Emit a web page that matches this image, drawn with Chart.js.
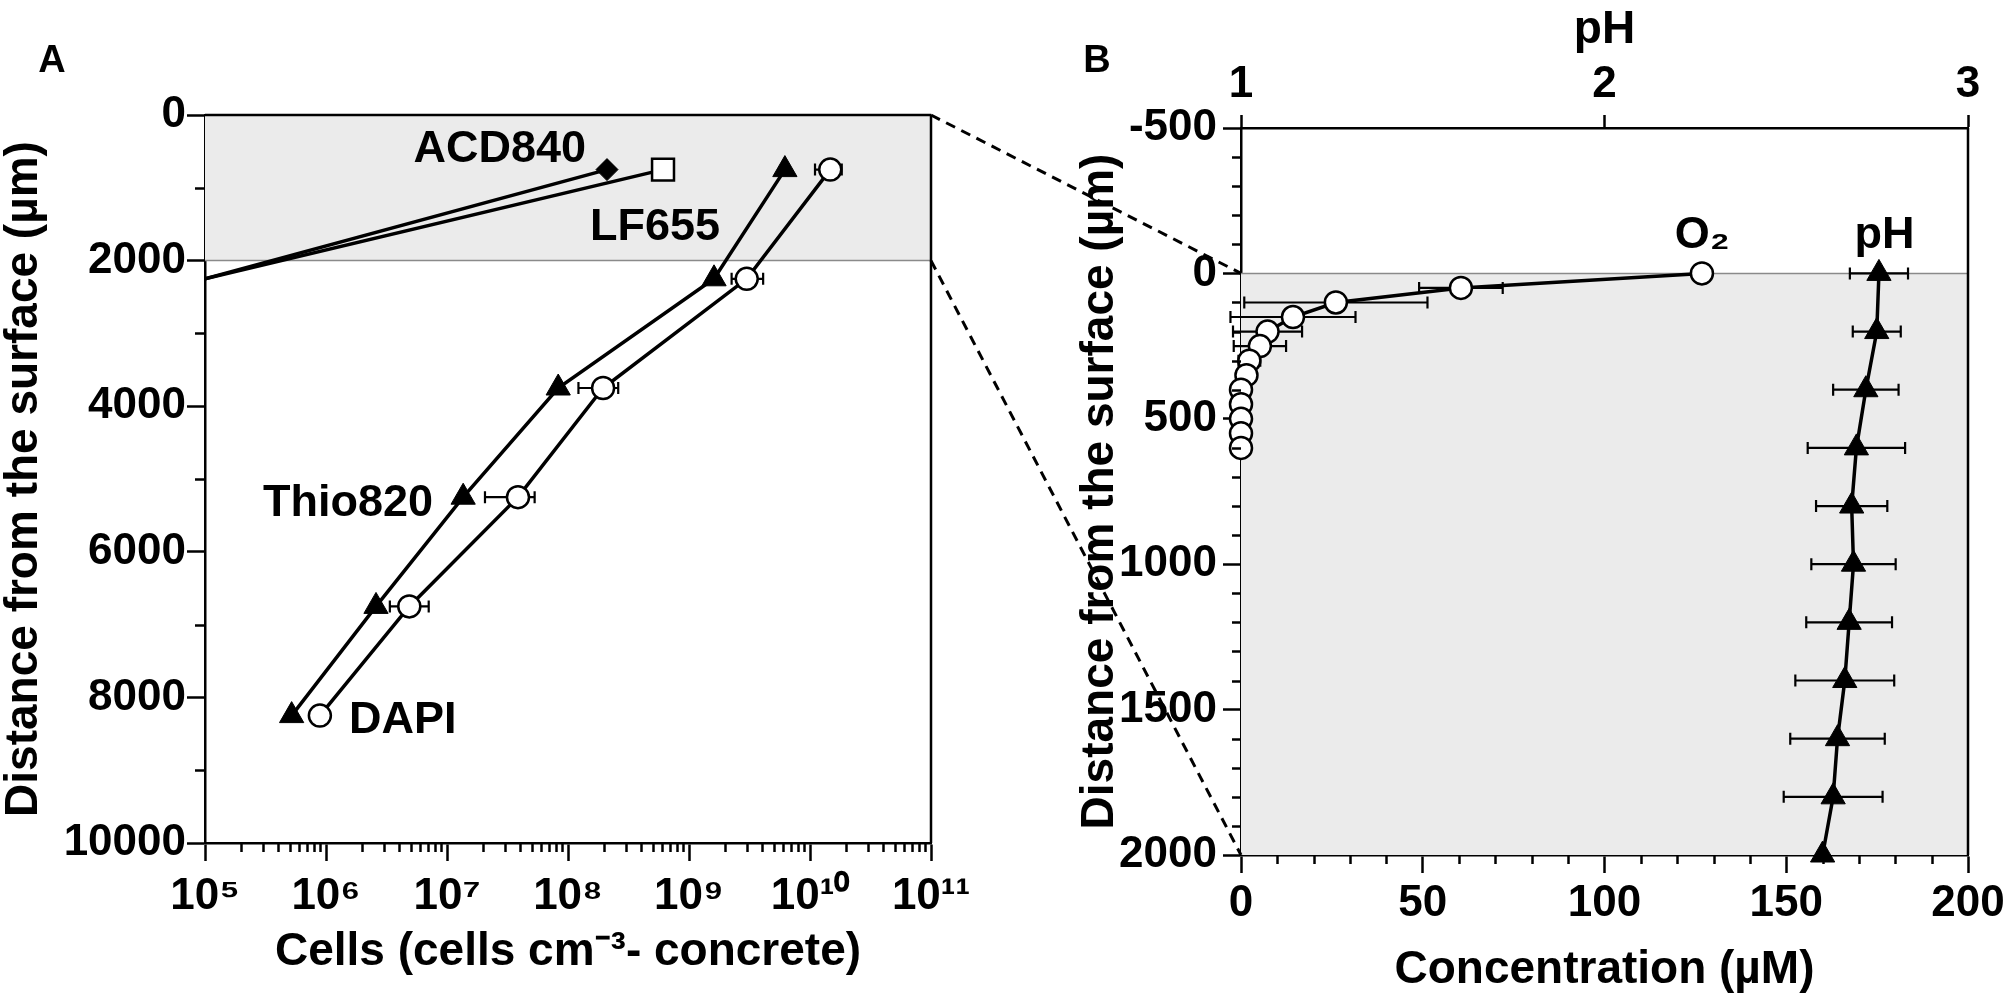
<!DOCTYPE html>
<html>
<head>
<meta charset="utf-8">
<script src="https://cdn.jsdelivr.net/npm/chart.js@4.4.1/dist/chart.umd.min.js"></script>
<style>
  html, body { margin: 0; padding: 0; background: #fff; }
  #wrap { position: relative; width: 2011px; height: 1003px; }
  #wrap canvas { position: absolute; left: 0; top: 0; }
</style>
</head>
<body>
<div id="wrap">
  <canvas id="chartA" width="2011" height="1003"></canvas>
  <canvas id="chartB" width="2011" height="1003"></canvas>
</div>
<script>
// Panel A: cell counts against depth
const depthA = [750, 2250, 3750, 5250, 6750, 8250];
const dapiCells = [1.47e10, 3.0e9, 1.95e8, 3.86e7, 4.88e6, 8.9e5];
const dapiLow = [1.10e10, 2.25e9, 1.22e8, 2.06e7, 3.37e6, null];
const dapiHigh = [1.83e10, 4.1e9, 2.6e8, 5.3e7, 7.06e6, null];
const thioCells = [6.2e9, 1.61e9, 8.3e7, 1.36e7, 2.59e6, 5.2e5];
const acdDepth = [750, 2250];
const acdCells = [2.1e8, 1e5];
const lfDepth = [750, 2250];
const lfCells = [6.1e8, 1e5];

const cellTicks = [1e5, 1e6, 1e7, 1e8, 1e9, 1e10, 1e11];
const cellTickLabels = ['10⁵', '10⁶', '10⁷', '10⁸', '10⁹', '10¹⁰', '10¹¹'];
const depthTicksA = [0, 2000, 4000, 6000, 8000, 10000];

// Panel B: O2 and pH microprofiles
const o2Depth = [0, 50, 100, 150, 200, 250, 300, 350, 400, 450, 500, 550, 600];
const o2Conc = [126.8, 60.5, 26.1, 14.3, 7.3, 5.2, 2.3, 1.5, 0, 0, 0, 0, 0];
const o2Err = [0, 11.5, 25.2, 17.2, 9.5, 7.2, 3, 0, 0, 0, 0, 0, 0];
const phDepth = [0, 200, 400, 600, 800, 1000, 1200, 1400, 1600, 1800, 2000];
const phValue = [2.755, 2.749, 2.719, 2.693, 2.680, 2.685, 2.673, 2.661, 2.641, 2.629, 2.600];
const phErr = [0.080, 0.066, 0.090, 0.134, 0.098, 0.116, 0.118, 0.136, 0.130, 0.136, 0];

const depthTicksB = [-500, 0, 500, 1000, 1500, 2000];
const concTicks = [0, 50, 100, 150, 200];
const phTicks = [1, 2, 3];

const fontFamily = "'Liberation Sans', Arial, sans-serif";
const tickFont = { family: fontFamily, size: 44, weight: 'bold' };
const titleFont = { family: fontFamily, size: 46, weight: 'bold', lineHeight: 1 };
const bandColor = '#ebebeb';

function labelFor(values, labels, v) {
  const i = values.indexOf(v);
  return i < 0 ? '' : labels[i];
}

function fixTicks(values) {
  return scale => { scale.ticks = values.map(v => ({ value: v })); };
}

// minor tick positions between the labelled ones
function steps(from, to, step, skip) {
  const out = [];
  for (let v = from; v <= to; v += step) {
    if (v % skip !== 0) out.push(v);
  }
  return out;
}
function logMinor(fromExp, toExp) {
  const out = [];
  for (let e = fromExp; e < toExp; e++) {
    for (let m = 2; m <= 9; m++) out.push(m * Math.pow(10, e));
  }
  return out;
}

function points(xs, ys) {
  return xs.map((x, i) => ({ x: x, y: ys[i] }));
}

const minorTicks = {
  id: 'minorTicks',
  afterDraw(chart, args, opts) {
    const ctx = chart.ctx;
    const area = chart.chartArea;
    ctx.save();
    ctx.strokeStyle = '#000';
    ctx.lineWidth = 2.5;
    opts.axes.forEach(a => {
      const scale = chart.scales[a.id];
      a.values.forEach(v => {
        const p = Math.round(scale.getPixelForValue(v)) + 0.5;
        ctx.beginPath();
        if (scale.position === 'left') {
          ctx.moveTo(area.left, p);
          ctx.lineTo(area.left - a.len, p);
        } else {
          ctx.moveTo(p, area.bottom);
          ctx.lineTo(p, area.bottom + a.len);
        }
        ctx.stroke();
      });
    });
    ctx.restore();
  }
};

const band = {
  id: 'band',
  beforeDatasetsDraw(chart, args, opts) {
    const ctx = chart.ctx;
    const area = chart.chartArea;
    const y = chart.scales.y;
    const y1 = y.getPixelForValue(opts.from);
    const y2 = y.getPixelForValue(opts.to);
    ctx.save();
    ctx.fillStyle = bandColor;
    ctx.fillRect(area.left, y1, area.right - area.left, y2 - y1);
    ctx.strokeStyle = '#8a8a8a';
    ctx.lineWidth = 1.5;
    const yl = y.getPixelForValue(opts.line);
    ctx.beginPath();
    ctx.moveTo(area.left, yl);
    ctx.lineTo(area.right, yl);
    ctx.stroke();
    ctx.restore();
  }
};

const frame = {
  id: 'frame',
  afterDraw(chart, args, opts) {
    const ctx = chart.ctx;
    const area = chart.chartArea;
    ctx.save();
    ctx.strokeStyle = '#000';
    ctx.lineWidth = 2.5;
    ctx.beginPath();
    if (opts.top) {
      ctx.moveTo(area.left, area.top);
      ctx.lineTo(area.right, area.top);
    }
    ctx.moveTo(area.right, area.top);
    ctx.lineTo(area.right, area.bottom);
    ctx.stroke();
    ctx.restore();
  }
};

const errorBars = {
  id: 'errorBars',
  beforeDatasetsDraw(chart, args, opts) {
    const ctx = chart.ctx;
    ctx.save();
    ctx.strokeStyle = '#000';
    ctx.lineWidth = 2.2;
    opts.sets.forEach(s => {
      const meta = chart.getDatasetMeta(s.dataset);
      const xs = chart.scales[meta.xAxisID];
      const ys = chart.scales[meta.yAxisID];
      s.lo.forEach((lo, i) => {
        const hi = s.hi[i];
        if (lo == null || hi == null || hi === lo) return;
        const y = ys.getPixelForValue(s.y[i]);
        const x1 = xs.getPixelForValue(lo);
        const x2 = xs.getPixelForValue(hi);
        ctx.beginPath();
        ctx.moveTo(x1, y);
        ctx.lineTo(x2, y);
        ctx.moveTo(x1, y - 6);
        ctx.lineTo(x1, y + 6);
        ctx.moveTo(x2, y - 6);
        ctx.lineTo(x2, y + 6);
        ctx.stroke();
      });
    });
    ctx.restore();
  }
};

const plotLabels = {
  id: 'plotLabels',
  afterDatasetsDraw(chart, args, opts) {
    const ctx = chart.ctx;
    ctx.save();
    ctx.fillStyle = '#000';
    ctx.textBaseline = 'alphabetic';
    ctx.font = 'bold 45px ' + fontFamily;
    opts.items.forEach(it => {
      const x = chart.scales[it.xAxis || 'x'].getPixelForValue(it.x);
      const y = chart.scales.y.getPixelForValue(it.y);
      ctx.textAlign = it.align;
      ctx.fillText(it.text, x, y);
    });
    ctx.restore();
  }
};

const panelLetter = {
  id: 'panelLetter',
  afterDraw(chart, args, opts) {
    const ctx = chart.ctx;
    ctx.save();
    ctx.fillStyle = '#000';
    ctx.font = 'bold 38px ' + fontFamily;
    ctx.textAlign = 'center';
    ctx.textBaseline = 'alphabetic';
    ctx.fillText(opts.text, opts.x, opts.y);
    ctx.restore();
  }
};

const baseOptions = {
  responsive: false,
  devicePixelRatio: 1,
  animation: false,
  events: []
};

function axisGrid(len) {
  return { drawOnChartArea: false, drawTicks: true, tickLength: len, tickWidth: 2.5, tickColor: '#000' };
}
const axisBorder = { display: true, color: '#000', width: 2.5 };

// ---------- Panel A ----------
const chartA = new Chart(document.getElementById('chartA'), {
  type: 'scatter',
  data: {
    datasets: [
      {
        label: 'DAPI',
        data: points(dapiCells, depthA),
        showLine: true,
        borderColor: '#000',
        borderWidth: 3.5,
        pointStyle: 'circle',
        pointRadius: 11,
        pointBackgroundColor: '#fff',
        pointBorderColor: '#000',
        pointBorderWidth: 2.5
      },
      {
        label: 'Thio820',
        data: points(thioCells, depthA),
        showLine: true,
        borderColor: '#000',
        borderWidth: 3.5,
        pointStyle: 'triangle',
        pointRadius: 14,
        pointBackgroundColor: '#000',
        pointBorderColor: '#000',
        pointBorderWidth: 1
      },
      {
        label: 'ACD840',
        data: points(acdCells, acdDepth),
        showLine: true,
        borderColor: '#000',
        borderWidth: 3.5,
        pointStyle: 'rectRot',
        pointRadius: [11, 0],
        pointBackgroundColor: '#000',
        pointBorderColor: '#000',
        pointBorderWidth: 1
      },
      {
        label: 'LF655',
        data: points(lfCells, lfDepth),
        showLine: true,
        borderColor: '#000',
        borderWidth: 3.5,
        pointStyle: 'rect',
        pointRadius: [15.5, 0],
        pointBackgroundColor: '#fff',
        pointBorderColor: '#000',
        pointBorderWidth: 2.5
      }
    ]
  },
  options: Object.assign({}, baseOptions, {
    layout: { padding: { left: 0, top: 115, right: 1080, bottom: 0 } },
    scales: {
      x: {
        type: 'logarithmic',
        position: 'bottom',
        min: 1e5,
        max: 1e11,
        afterBuildTicks: fixTicks(cellTicks),
        afterFit: s => { s.height = 160; },
        border: axisBorder,
        grid: axisGrid(18),
        ticks: {
          autoSkip: false,
          maxRotation: 0,
          padding: 9,
          color: '#000',
          font: tickFont,
          callback: v => labelFor(cellTicks, cellTickLabels, v)
        },
        title: {
          display: true,
          text: 'Cells (cells cm⁻³- concrete)',
          color: '#000',
          font: titleFont,
          padding: { top: 0, bottom: 28 }
        }
      },
      y: {
        type: 'linear',
        position: 'left',
        reverse: true,
        min: 0,
        max: 10000,
        afterBuildTicks: fixTicks(depthTicksA),
        afterFit: s => { s.width = 205; },
        border: axisBorder,
        grid: axisGrid(18),
        ticks: {
          autoSkip: false,
          padding: 1,
          color: '#000',
          font: tickFont,
          callback: v => String(v)
        },
        title: {
          display: true,
          text: 'Distance from the surface (µm)',
          color: '#000',
          font: titleFont,
          padding: { top: 1, bottom: 0 }
        }
      }
    },
    plugins: {
      legend: { display: false },
      tooltip: { enabled: false },
      band: { from: 0, to: 2000, line: 2000 },
      frame: { top: true },
      minorTicks: {
        axes: [
          { id: 'x', values: logMinor(5, 11), len: 9 },
          { id: 'y', values: steps(0, 10000, 1000, 2000), len: 10 }
        ]
      },
      errorBars: {
        sets: [{ dataset: 0, y: depthA, lo: dapiLow, hi: dapiHigh }]
      },
      plotLabels: {
        items: [
          { text: 'ACD840', x: 1.41e8, y: 645, align: 'right' },
          { text: 'LF655', x: 1.52e8, y: 1717, align: 'left' },
          { text: 'Thio820', x: 7.66e6, y: 5508, align: 'right' },
          { text: 'DAPI', x: 1.55e6, y: 8489, align: 'left' }
        ]
      },
      panelLetter: { text: 'A', x: 52, y: 72 }
    }
  }),
  plugins: [band, errorBars, plotLabels, minorTicks, frame, panelLetter]
});

// dashed lines tying the shaded part of A to panel B
const connector = {
  id: 'connector',
  afterDraw(chart) {
    const ctx = chart.ctx;
    const a = chartA.chartArea;
    const ya = chartA.scales.y;
    const b = chart.chartArea;
    const yb = chart.scales.y;
    ctx.save();
    ctx.strokeStyle = '#000';
    ctx.lineWidth = 3;
    ctx.setLineDash([10, 7]);
    ctx.beginPath();
    ctx.moveTo(a.right, ya.getPixelForValue(0));
    ctx.lineTo(b.left, yb.getPixelForValue(0));
    ctx.moveTo(a.right, ya.getPixelForValue(2000));
    ctx.lineTo(b.left, yb.getPixelForValue(2000));
    ctx.stroke();
    ctx.restore();
  }
};

// ---------- Panel B ----------
new Chart(document.getElementById('chartB'), {
  type: 'scatter',
  data: {
    datasets: [
      {
        label: 'O2',
        data: points(o2Conc, o2Depth),
        xAxisID: 'x',
        showLine: true,
        borderColor: '#000',
        borderWidth: 3.5,
        pointStyle: 'circle',
        pointRadius: 11,
        pointBackgroundColor: '#fff',
        pointBorderColor: '#000',
        pointBorderWidth: 2.5,
        clip: false
      },
      {
        label: 'pH',
        data: points(phValue, phDepth),
        xAxisID: 'x2',
        showLine: true,
        borderColor: '#000',
        borderWidth: 3.5,
        pointStyle: 'triangle',
        pointRadius: 14,
        pointBackgroundColor: '#000',
        pointBorderColor: '#000',
        pointBorderWidth: 1,
        clip: false
      }
    ]
  },
  options: Object.assign({}, baseOptions, {
    layout: { padding: { left: 1070, top: 0, right: 43, bottom: 0 } },
    scales: {
      x: {
        type: 'linear',
        position: 'bottom',
        min: 0,
        max: 200,
        afterBuildTicks: fixTicks(concTicks),
        afterFit: s => { s.height = 148; },
        border: axisBorder,
        grid: axisGrid(18),
        ticks: {
          autoSkip: false,
          maxRotation: 0,
          padding: 4,
          color: '#000',
          font: tickFont,
          callback: v => String(v)
        },
        title: {
          display: true,
          text: 'Concentration (µM)',
          color: '#000',
          font: titleFont,
          padding: { top: 0, bottom: 10 }
        }
      },
      x2: {
        type: 'linear',
        position: 'top',
        min: 1,
        max: 3,
        afterBuildTicks: fixTicks(phTicks),
        afterFit: s => { s.height = 128; },
        border: axisBorder,
        grid: axisGrid(13),
        ticks: {
          autoSkip: false,
          maxRotation: 0,
          padding: 4,
          color: '#000',
          font: tickFont,
          callback: v => String(v)
        },
        title: {
          display: true,
          text: 'pH',
          color: '#000',
          font: titleFont,
          padding: { top: 7, bottom: 0 }
        }
      },
      y: {
        type: 'linear',
        position: 'left',
        reverse: true,
        min: -500,
        max: 2000,
        afterBuildTicks: fixTicks(depthTicksB),
        afterFit: s => { s.width = 171; },
        border: axisBorder,
        grid: axisGrid(18),
        ticks: {
          autoSkip: false,
          padding: 6,
          color: '#000',
          font: tickFont,
          callback: v => String(v)
        },
        title: {
          display: true,
          text: 'Distance from the surface (µm)',
          color: '#000',
          font: titleFont,
          padding: { top: 7, bottom: 0 }
        }
      }
    },
    plugins: {
      legend: { display: false },
      tooltip: { enabled: false },
      band: { from: 0, to: 2000, line: 0 },
      frame: { top: false },
      minorTicks: {
        axes: [
          { id: 'x', values: steps(0, 200, 10, 50), len: 9 },
          { id: 'y', values: steps(-500, 2000, 100, 500), len: 9 }
        ]
      },
      errorBars: {
        sets: [
          { dataset: 0, y: o2Depth, lo: o2Conc.map((v, i) => v - o2Err[i]), hi: o2Conc.map((v, i) => v + o2Err[i]) },
          { dataset: 1, y: phDepth, lo: phValue.map((v, i) => v - phErr[i]), hi: phValue.map((v, i) => v + phErr[i]) }
        ]
      },
      plotLabels: {
        items: [
          { text: 'O₂', x: 119.3, y: -89, align: 'left' },
          { text: 'pH', x: 168.8, y: -89, align: 'left' }
        ]
      },
      panelLetter: { text: 'B', x: 1097, y: 72 }
    }
  }),
  plugins: [band, errorBars, plotLabels, minorTicks, frame, connector, panelLetter]
});
</script>
</body>
</html>
